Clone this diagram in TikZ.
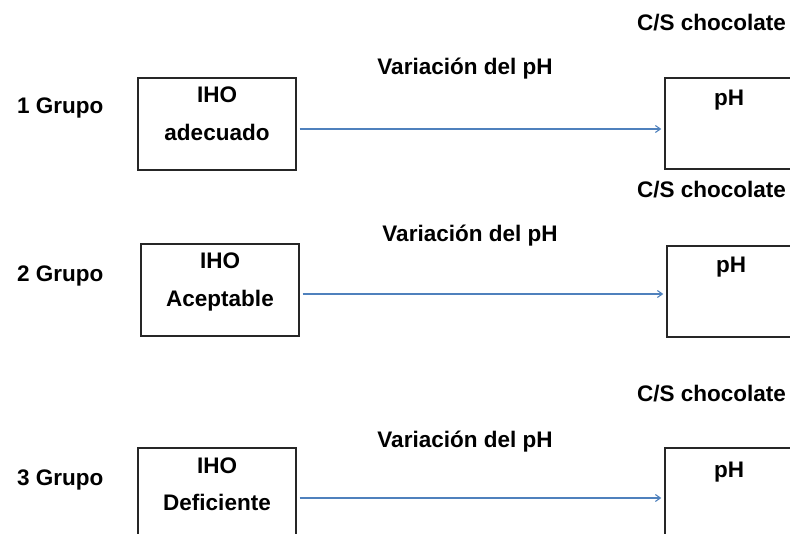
\documentclass[tikz,border=0pt]{standalone}
\usepackage{fontspec}
\setmainfont{Liberation Sans}
\usetikzlibrary{positioning,arrows.meta}
\definecolor{azul}{RGB}{79,129,189}
\tikzset{
  txt/.style={font=\bfseries\fontsize{22.5}{26}\selectfont, inner sep=0pt, anchor=base},
  caja/.style={draw=black!85, line width=1.4pt, minimum width=158pt, minimum height=92pt, inner sep=0pt},
  cajaph/.style={draw=black!85, line width=1.4pt, minimum width=128pt, minimum height=91pt, inner sep=0pt},
  flecha/.style={draw=azul, line width=1.1pt, -{Straight Barb[length=5pt,width=7pt]}, shorten >=3pt, shorten <=3pt}
}
\begin{document}
\begin{tikzpicture}[x=1pt,y=-1pt]
\useasboundingbox (0,0) rectangle (790,534);
% grupo 1
\node[txt, anchor=base west] (G1) at (17,114) {1 Grupo};
\node[caja] (A1) at (217,124) {};
\node[txt] (I1) at (217,103) {IHO};
\node[txt] (N1) at (217,141) {adecuado};
\node[cajaph] (B1) at (729,123.5) {};
\node[txt] (P1) at (729,106) {pH};
\node[txt, anchor=base east] (C1) at (786,31) {C/S chocolate};
\node[txt] (V1) at (465,75) {Variación del pH};
\draw[flecha] (A1.east |- 0,129) -- (B1.west |- 0,129);
% grupo 2
\node[txt, anchor=base west] (G2) at (17,282) {2 Grupo};
\node[caja] (A2) at (220,290) {};
\node[txt] (I2) at (220,269) {IHO};
\node[txt] (N2) at (220,307) {Aceptable};
\node[cajaph] (B2) at (731,291.5) {};
\node[txt] (P2) at (731,273) {pH};
\node[txt, anchor=base east] (C2) at (786,198) {C/S chocolate};
\node[txt] (V2) at (470,242) {Variación del pH};
\draw[flecha] (A2.east |- 0,294) -- (B2.west |- 0,294);
% grupo 3
\node[txt, anchor=base west] (G3) at (17,485) {3 Grupo};
\node[caja] (A3) at (217,494) {};
\node[txt] (I3) at (217,473) {IHO};
\node[txt] (N3) at (217,510) {Deficiente};
\node[cajaph] (B3) at (729,493.5) {};
\node[txt] (P3) at (729,477) {pH};
\node[txt, anchor=base east] (C3) at (786,402) {C/S chocolate};
\node[txt] (V3) at (465,447) {Variación del pH};
\draw[flecha] (A3.east |- 0,498) -- (B3.west |- 0,498);
\end{tikzpicture}
\end{document}
